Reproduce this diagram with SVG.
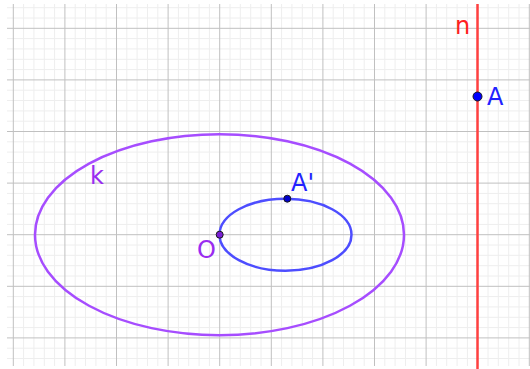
<svg xmlns="http://www.w3.org/2000/svg" width="530" height="369" viewBox="0 0 530 369">
<style>
.minor{stroke:#eeeeee;stroke-width:1;fill:none}
.major{stroke:#c0c0c0;stroke-width:1;fill:none}
.lbl{font-family:"DejaVu Sans","Liberation Sans",sans-serif;font-size:24px}
.pt{stroke:#1a1a1a;stroke-width:1}
</style>
<rect x="0" y="0" width="530" height="369" fill="#ffffff"/>
<g id="grid">
<path class="minor" d="M23.6 4V366M33.9 4V366M44.3 4V366M54.6 4V366M75.2 4V366M85.5 4V366M95.9 4V366M106.2 4V366M126.8 4V366M137.1 4V366M147.5 4V366M157.8 4V366M178.4 4V366M188.7 4V366M199.1 4V366M209.4 4V366M230 4V366M240.3 4V366M250.7 4V366M261 4V366M281.6 4V366M291.9 4V366M302.3 4V366M312.6 4V366M333.2 4V366M343.5 4V366M353.9 4V366M364.2 4V366M384.8 4V366M395.1 4V366M405.5 4V366M415.8 4V366M436.4 4V366M446.7 4V366M457.1 4V366M467.4 4V366M488 4V366M498.3 4V366M508.7 4V366M519 4V366
M7 7.7H530M7 18H530M7 38.6H530M7 48.9H530M7 59.3H530M7 69.6H530M7 90.2H530M7 100.5H530M7 110.9H530M7 121.2H530M7 141.8H530M7 152.1H530M7 162.5H530M7 172.8H530M7 193.4H530M7 203.7H530M7 214.1H530M7 224.4H530M7 245H530M7 255.3H530M7 265.7H530M7 276H530M7 296.6H530M7 306.9H530M7 317.3H530M7 327.6H530M7 348.2H530M7 358.5H530"/>
<path class="major" d="M13.3 4V366M64.9 4V366M116.5 4V366M168.1 4V366M219.7 4V366M271.3 4V366M322.9 4V366M374.5 4V366M426.1 4V366M477.7 4V366M529.3 4V366
M7 28.3H530M7 79.9H530M7 131.5H530M7 183.1H530M7 234.7H530M7 286.3H530M7 337.9H530"/>
</g>
<g id="connectors">
<line id="n" x1="477.5" y1="4" x2="477.5" y2="369" stroke="#ff4040" stroke-width="2.5"/>
<ellipse id="k" cx="219.5" cy="234.7" rx="184.5" ry="100.5" fill="none" stroke="#a64dff" stroke-width="2.5"/>
<ellipse id="c" cx="285.5" cy="234.7" rx="66" ry="36" fill="none" stroke="#4d4dff" stroke-width="2.5"/>
</g>
<g id="node-O">
<circle class="pt" cx="219.7" cy="234.7" r="3.5" fill="#7a1fd6"/>
<text class="lbl" x="197" y="258" fill="#9a2cf0">O</text>
</g>
<g id="node-A1">
<circle class="pt" cx="287.3" cy="198.7" r="3.5" fill="#0000cc"/>
<text class="lbl" x="291" y="191" fill="#2222ff">A'</text>
</g>
<g id="node-A">
<circle class="pt" cx="477.5" cy="96.5" r="4.5" fill="#0000ff"/>
<text class="lbl" x="487" y="105" fill="#2222ff">A</text>
</g>
<g id="label-n"><text class="lbl" x="455" y="34" fill="#ff2020">n</text></g>
<g id="label-k"><text class="lbl" x="90" y="184" fill="#9a2cf0">k</text></g>
</svg>
